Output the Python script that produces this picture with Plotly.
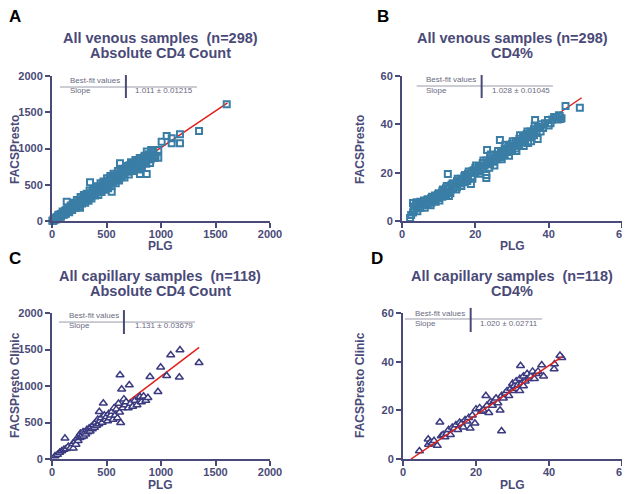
import plotly.graph_objects as go

# venous, absolute CD4 count (panel A)
a_x = [3, 10, 15, 20, 25, 30, 35, 40, 45, 50, 55, 60, 65, 70, 75, 80, 85, 90, 95, 100,
       105, 110, 115, 120, 125, 130, 135, 140, 150, 155, 160, 165, 170, 175, 180, 190,
       200, 205, 210, 220, 230, 240, 250, 257, 260, 270, 280, 290, 300, 310, 320, 330,
       340, 349, 350, 360, 370, 380, 390, 400, 410, 420, 430, 440, 450, 460, 470, 480,
       490, 500, 510, 520, 530, 540, 548, 550, 560, 570, 580, 590, 600, 610, 620, 624,
       630, 640, 650, 660, 670, 680, 690, 700, 710, 720, 730, 740, 750, 760, 770, 780,
       790, 800, 807, 807, 810, 820, 830, 840, 850, 860, 869, 870, 880, 890, 900, 910,
       920, 930, 940, 950, 975, 975, 1006, 1052, 1098, 1098, 1174, 1174, 1349, 1603,
       15, 28, 42, 58, 68, 82, 98, 112, 128, 145, 158, 172, 185, 198, 215, 228, 245, 262,
       275, 292, 305, 318, 335, 345, 362, 378, 395, 412, 425, 445, 455, 472, 488, 505,
       515, 535, 545, 565, 585, 605, 615, 645, 665, 685, 705, 725, 745, 765, 785, 805,
       825, 845, 865, 885, 905, 925, 945]
a_y = [2, 5, 25, 18, 30, 22, 45, 38, 50, 60, 48, 70, 58, 80, 65, 95, 78, 100, 88, 115,
       95, 120, 105, 140, 118, 150, 265, 130, 165, 140, 180, 150, 190, 160, 205, 185,
       220, 190, 235, 210, 250, 225, 275, 184, 245, 300, 265, 320, 285, 335, 300, 360,
       320, 534, 380, 340, 400, 360, 420, 385, 445, 400, 470, 425, 490, 440, 510, 460,
       530, 475, 555, 500, 570, 520, 404, 595, 540, 610, 560, 630, 580, 650, 600, 796,
       670, 620, 700, 640, 720, 690, 750, 680, 770, 700, 790, 720, 800, 740, 820, 760,
       830, 780, 648, 710, 850, 800, 870, 810, 900, 830, 648, 960, 850, 920, 800, 980,
       880, 950, 870, 900, 873, 979, 1094, 1172, 1072, 1140, 1196, 1072, 1241, 1610,
       8, 40, 25, 85, 45, 60, 130, 85, 100, 185, 120, 215, 150, 250, 180, 290, 200, 330,
       240, 360, 250, 375, 280, 420, 310, 440, 350, 480, 360, 520, 400, 545, 430, 590,
       450, 620, 480, 650, 520, 690, 560, 720, 600, 760, 640, 810, 690, 840, 720, 870,
       760, 880, 790, 900, 850, 920, 890]
a_fit_x = [0, 1610]
a_fit_y = [0, 1628]

# venous, CD4% (panel B)
b_x = [2.2, 2.5, 3, 3.2, 3.5, 4, 4, 4.5, 5, 5, 5.5, 6, 6, 6.5, 7, 7, 7.5, 8, 8, 8.5,
       9, 9, 9.5, 10, 10, 10.5, 11, 11, 11.5, 12, 12, 12.5, 12.8, 13, 13, 13.5, 14, 14,
       14.5, 15, 15, 15.5, 16, 16, 16.5, 17, 17, 17.5, 18, 18, 18.8, 19, 19, 19.5, 20,
       20, 20.5, 21, 21, 21.5, 22, 22, 22.5, 23, 23, 23, 23.2, 23.5, 24, 24, 24.5, 25,
       25, 25.5, 26, 26, 26.5, 26.7, 27, 27, 27.5, 28, 28, 28.5, 29, 29, 29.5, 30, 30,
       30.5, 31, 31, 31.5, 32, 32, 32.5, 33, 33, 33.5, 34, 34.4, 34.5, 35, 35, 35.5, 36,
       36, 36.3, 36.7, 37, 37, 37.5, 38, 38.5, 39, 39.8, 40, 41, 42, 42.5, 43, 43.5,
       44.6, 48.5,
       3, 3.8, 4.2, 5.2, 6.2, 6.8, 7.8, 8.2, 9.2, 9.8, 10.2, 11.2, 11.8, 12.2, 13.2, 13.8,
       14.8, 15.2, 16.2, 17.2, 17.8, 18.2, 19.2, 20.2, 21.2, 22.2, 23.8, 24.2, 25.2, 26.2,
       27.2, 28.2, 29.2, 30.2, 31.2, 32.2, 33.2, 34.2, 35.2, 36.2, 37.8, 40.5, 41.5, 42.8,
       43.2]
b_y = [1.2, 2.5, 7.4, 4.5, 6, 5.2, 7.8, 6.5, 8, 5.5, 7, 8.5, 6.5, 7.5, 9, 6.8, 8, 9.5,
       7.5, 9, 10.5, 8.5, 10, 11.5, 9.5, 11, 12.5, 10, 12, 13.5, 11, 19.4, 10.3, 14, 12,
       15, 15.5, 13.5, 15, 16.5, 14, 16, 17.5, 15.5, 17, 18.5, 16, 18, 19.5, 17.5, 15.3,
       20.5, 18.5, 21, 22, 20, 21, 22.5, 20.5, 22, 24, 21.5, 23, 25, 19, 17.8, 29.4, 24,
       26, 23.5, 25, 27, 24.5, 26, 27.5, 25.5, 27, 33.5, 28.5, 26.5, 28, 30, 27.5, 29.5,
       31, 28.5, 30.5, 32, 29.5, 31, 33, 30, 32.5, 34, 31.5, 33, 35, 32.5, 34.5, 36, 32.3,
       35.5, 37, 34.5, 36.5, 38, 35.5, 41.8, 36.5, 33.9, 38.5, 39, 40, 38.5, 40.5, 41.8,
       39.5, 42, 43, 42, 43.5, 42.5, 47.6, 46.9,
       3.5, 6.8, 4, 7.5, 5.5, 8.5, 6.5, 10, 8, 11, 8.5, 13, 10.5, 14.5, 11.5, 15.5, 13,
       17.5, 14.5, 19, 16.5, 20.5, 17.5, 23, 19.5, 25, 22, 27.5, 23, 29, 25.5, 31.5, 27,
       33, 29, 35.5, 31, 37, 33, 39.5, 37, 40.5, 43, 43.8, 42.2]
b_fit_x = [2, 49]
b_fit_y = [2.5, 51]

# capillary, absolute CD4 count (panel C)
c_x = [28, 50, 70, 90, 110, 119, 130, 150, 170, 190, 195, 210, 220, 230, 240, 250, 255,
       260, 270, 280, 285, 290, 300, 310, 320, 330, 340, 350, 360, 370, 380, 390, 400,
       410, 420, 430, 434, 440, 450, 460, 471, 480, 490, 500, 510, 520, 530, 540, 550,
       560, 570, 580, 590, 600, 610, 620, 624, 630, 639, 650, 660, 670, 680, 700, 709,
       720, 740, 760, 780, 800, 807, 820, 840, 860, 880, 899, 972, 997, 1052, 1089, 1168,
       1174, 1349]
c_y = [41, 60, 90, 110, 130, 283, 140, 170, 150, 210, 146, 240, 200, 280, 250, 320, 290,
       350, 300, 330, 370, 310, 360, 340, 400, 370, 420, 380, 440, 410, 470, 430, 500,
       460, 540, 480, 648, 520, 560, 500, 763, 600, 540, 580, 520, 620, 560, 600, 650,
       540, 700, 600, 680, 560, 760, 640, 1151, 497, 955, 700, 820, 740, 780, 700, 1014,
       760, 720, 800, 740, 840, 853, 780, 860, 800, 840, 1127, 922, 1256, 1141, 1425,
       1119, 1493, 1319]
c_fit_x = [28, 1350]
c_fit_y = [30, 1530]

# capillary, CD4% (panel D)
d_x = [4.5, 6.9, 7, 7.5, 8, 8.5, 9.4, 10.1, 10.5, 11, 11.5, 12, 12.5, 13, 13.5, 14,
       14.5, 15, 15.5, 16, 16.5, 17, 17.5, 18.4, 18, 19, 19.7, 20, 21, 21.5, 22, 22.7,
       23, 23.5, 24, 24.5, 25, 25.5, 26, 26.6, 27, 27, 27.5, 28, 28.5, 29, 29.5, 30, 30,
       30.5, 31, 31, 31.5, 32, 32, 32.2, 32.5, 33, 33, 33.5, 34, 34.5, 35, 35.5, 36,
       36.5, 37, 38, 38.5, 41.4, 41.5, 43.5, 43]
d_y = [3.3, 8.1, 6, 7, 6.5, 7.5, 5.5, 15.1, 9.5, 10, 9, 10.5, 12, 10, 13, 12.5, 14, 12,
       15, 14.5, 13, 16, 15.5, 12.6, 17, 18, 14.7, 20.5, 21, 19.5, 20, 26, 22, 19, 23.5,
       22, 24, 25, 23, 20, 11.5, 26, 25, 27, 28, 26, 29, 28, 31, 30, 29, 32, 30.5, 28, 33,
       38.3, 31, 30, 34, 32, 35, 33, 34, 36, 33, 35, 36, 38.6, 34, 37, 39, 41.6, 42.5]
d_fit_x = [2.2, 43.5]
d_fit_y = [0, 42]

count_ticks = [0, 500, 1000, 1500, 2000]
pct_ticks = [0, 20, 40, 60]

ink = "#4a4a78"
venous = "#3a7ea6"
capillary = "#3b3a80"
font = "Arial, Liberation Sans, sans-serif"

# the page puts the figure 8px in from the top-left corner of the window
W, H, OFF = 622, 486, 8


def X(px):
    return (px - OFF) / W


def Y(py):
    return 1 - (py - OFF) / H


fig = go.Figure()

panels = [
    # name, x data, y data, fit x, fit y, color, symbol, ticks, range, px box, line on top
    ("", a_x, a_y, a_fit_x, a_fit_y, venous, "square-open", count_ticks, 2000,
     (52, 270, 221, 76), False),
    ("2", b_x, b_y, b_fit_x, b_fit_y, venous, "square-open", pct_ticks, 60,
     (402, 622, 221, 76), False),
    ("3", c_x, c_y, c_fit_x, c_fit_y, capillary, "triangle-up", count_ticks, 2000,
     (52, 270, 459, 313), False),
    ("4", d_x, d_y, d_fit_x, d_fit_y, capillary, "triangle-up", pct_ticks, 60,
     (403, 622, 459, 313), True),
]

for name, xs, ys, fx, fy, col, sym, ticks, top, box, line_top in panels:
    fit = go.Scatter(x=fx, y=fy, mode="lines", line=dict(color="#e0201b", width=1.5),
                     xaxis="x" + name, yaxis="y" + name, hoverinfo="skip")
    if sym == "square-open":
        mk = dict(symbol=sym, size=6, color=col, line=dict(color=col, width=2))
    else:
        mk = dict(symbol=sym, size=7, color="white", line=dict(color=col, width=1.5))
    pts = go.Scatter(x=xs, y=ys, mode="markers", xaxis="x" + name, yaxis="y" + name,
                     cliponaxis=False, marker=mk)
    if line_top:
        fig.add_trace(pts)
        fig.add_trace(fit)
    else:
        fig.add_trace(fit)
        fig.add_trace(pts)

    axis_style = dict(showline=True, linecolor=ink, linewidth=2, ticks="outside", ticklen=5,
                      tickwidth=2, tickcolor=ink, showgrid=False, zeroline=False,
                      tickvals=ticks, range=[0, top], automargin=False,
                      tickfont=dict(family=font, size=11, color=ink, weight="bold"))
    x0, x1, y0, y1 = box
    fig.layout["xaxis" + name] = dict(domain=[X(x0), X(x1)], anchor="y" + name,
                                      ticklabelstandoff=-3, **axis_style)
    fig.layout["yaxis" + name] = dict(domain=[Y(y0), Y(y1)], anchor="x" + name, **axis_style)

anns = []


def note(text, x, y, size, color, xref="paper", yref="paper", xanchor="center", angle=0):
    anns.append(dict(text=text, x=x, y=y, xref=xref, yref=yref, xanchor=xanchor,
                     yanchor="middle", textangle=angle, showarrow=False,
                     font=dict(family=font, size=size, color=color)))


# panel letters
for t, px, py in [("A", 15, 17), ("B", 383, 17), ("C", 15, 258), ("D", 377, 258)]:
    note("<b>%s</b>" % t, X(px), Y(py), 17, "black")

# two-line panel titles
titles = [
    ("All venous samples  (n=298)", "Absolute CD4 Count", 160, 38, 53),
    ("All venous samples (n=298)", "CD4%", 512, 38, 53),
    ("All capillary samples  (n=118)", "Absolute CD4 Count", 160, 276, 291),
    ("All capillary samples  (n=118)", "CD4%", 512, 276, 291),
]
for t1, t2, px, py1, py2 in titles:
    note("<b>%s</b>" % t1, X(px), Y(py1), 14.5, ink)
    note("<b>%s</b>" % t2, X(px), Y(py2), 14.5, ink)

for px, py in [(160, 246), (512, 246), (160, 485), (512, 485)]:
    note("<b>PLG</b>", X(px), Y(py), 12, ink)

for px, py, t in [(15, 150, "FACSPresto"), (360, 150, "FACSPresto"),
                  (15, 385, "FACSPresto Clinic"), (360, 385, "FACSPresto Clinic")]:
    note("<b>%s</b>" % t, X(px), Y(py), 12, ink, angle=-90)

# best-fit inset tables
slopes = ["1.011 ± 0.01215", "1.028 ± 0.01045", "1.131 ± 0.03679", "1.020 ± 0.02711"]
insets = [
    # name, hline x0, x1, y, vline x, vline y0, y1, text left, value left, row1 y, row2 y
    ("", 0.037, 0.665, 0.924, 0.339, 0.848, 1.007, 0.073, 0.372, 0.97, 0.897),
    ("2", 0.067, 0.686, 0.931, 0.362, 0.848, 1.007, 0.10, 0.40, 0.975, 0.90),
    ("3", 0.032, 0.656, 0.938, 0.330, 0.856, 1.02, 0.069, 0.37, 0.986, 0.911),
    ("4", 0.009, 0.635, 0.959, 0.309, 0.870, 1.035, 0.046, 0.343, 1.0, 0.925),
]
shapes = []
small = "#6a6a80"
for (name, hx0, hx1, hy, vx, vy0, vy1, tl, vl, r1, r2), s in zip(insets, slopes):
    xr, yr = "x%s domain" % name, "y%s domain" % name
    shapes.append(dict(type="line", xref=xr, yref=yr, x0=hx0, x1=hx1, y0=hy, y1=hy,
                       line=dict(color="#9a9aaa", width=1)))
    shapes.append(dict(type="line", xref=xr, yref=yr, x0=vx, x1=vx, y0=vy0, y1=vy1,
                       line=dict(color=ink, width=2)))
    note("Best-fit values", tl, r1, 8, small, xr, yr, "left")
    note("Slope", tl, r2, 8, small, xr, yr, "left")
    note(s, vl, r2, 8, small, xr, yr, "left")

fig.update_layout(width=W, height=H, margin=dict(l=0, r=0, t=0, b=0, autoexpand=False),
                  paper_bgcolor="white", plot_bgcolor="white", showlegend=False,
                  annotations=anns, shapes=shapes, font=dict(family=font))

fig.write_html("out.html")
